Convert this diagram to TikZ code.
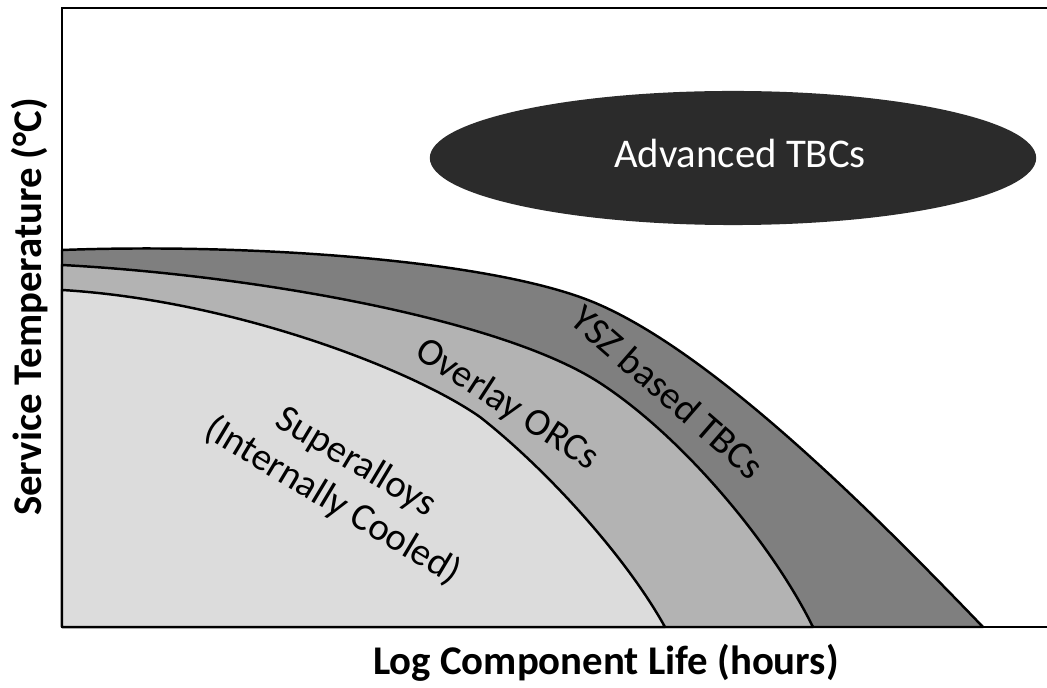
\documentclass[tikz,border=0pt]{standalone}
\usepackage{fontspec}
\setmainfont{Carlito}
\usepackage{tikz}
\usetikzlibrary{shapes.geometric}

\definecolor{alloygray}{HTML}{DCDCDC}
\definecolor{orcgray}{HTML}{B3B3B3}
\definecolor{yszgray}{HTML}{7F7F7F}
\definecolor{tbcdark}{HTML}{2B2B2B}

\begin{document}
\begin{tikzpicture}[x=0.01cm, y=-0.01cm,
    band/.style={draw=black, line width=0.7pt, line join=round},
    lbl/.style={font=\fontsize{11}{13}\selectfont, align=center, inner sep=0pt},
    axislbl/.style={font=\bfseries\fontsize{11.6}{14}\selectfont, inner sep=0pt}]
    \useasboundingbox (0,0) rectangle (1047,688);

    % YSZ based TBCs
    \filldraw[band, fill=yszgray] (62,627) -- (62,250)
        .. controls (250,243) and (500,260) .. (600,305)
        .. controls (720,358) and (880,520) .. (983,627) -- cycle;

    % overlay ORCs
    \filldraw[band, fill=orcgray] (62,627) -- (62,265)
        .. controls (250,275) and (500,318) .. (600,383)
        .. controls (680,435) and (770,540) .. (813,627) -- cycle;

    % superalloys
    \filldraw[band, fill=alloygray] (62,627) -- (62,290)
        .. controls (230,300) and (410,368) .. (480,417)
        .. controls (545,468) and (625,555) .. (665,627) -- cycle;

    % axes
    \draw[line width=0.85pt] (1047,8) -- (62,8) -- (62,627) -- (1047,627);

    \node[ellipse, fill=tbcdark, minimum width=6.06cm, minimum height=1.34cm, inner sep=0pt] (adv) at (733,158) {};
    \node[font=\fontsize{11.6}{14}\selectfont, text=white, inner sep=0pt] (advlabel) at (740,153) {Advanced TBCs};

    \node[lbl, rotate=-41] (ysz) at (668,392) {YSZ based TBCs};
    \node[lbl, rotate=-33] (orc) at (507,405) {Overlay ORCs};
    \node[lbl, rotate=-31] (alloy) at (344,482) {Superalloys\\(Internally Cooled)};

    \node[axislbl] (xlabel) at (606,663) {Log Component Life (hours)};
    \node[axislbl, rotate=90] (ylabel) at (30,307) {Service Temperature (°C)};
\end{tikzpicture}
\end{document}
